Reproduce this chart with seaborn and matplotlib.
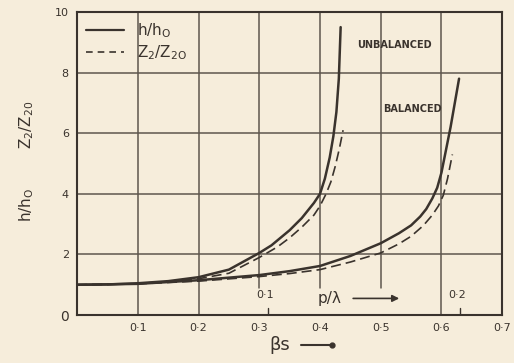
import numpy as np
import pandas as pd
import matplotlib
matplotlib.use("Agg")
import matplotlib.pyplot as plt
from matplotlib.lines import Line2D
import seaborn as sns

# === Curve data
unbal_h_x = [0, 0.05, 0.1, 0.15, 0.2, 0.25, 0.3, 0.32, 0.35, 0.37, 0.39, 0.4,
             0.408, 0.416, 0.422, 0.427, 0.431, 0.434]
unbal_h_y = [1.0, 1.01, 1.05, 1.12, 1.25, 1.5, 2.05, 2.3, 2.8, 3.2, 3.7, 4.0,
             4.5, 5.2, 5.9, 6.7, 7.8, 9.5]

unbal_z_x = [0, 0.05, 0.1, 0.15, 0.2, 0.25, 0.3, 0.33, 0.35, 0.37, 0.39, 0.4,
             0.41, 0.418, 0.425, 0.432, 0.438]
unbal_z_y = [1.0, 1.01, 1.04, 1.1, 1.2, 1.38, 1.9, 2.25, 2.55, 2.9, 3.3, 3.6,
             4.0, 4.4, 4.9, 5.5, 6.1]

bal_h_x = [0, 0.1, 0.2, 0.3, 0.35, 0.4, 0.45, 0.5, 0.53, 0.55, 0.565, 0.575,
           0.585, 0.593, 0.6, 0.608, 0.615, 0.622, 0.629]
bal_h_y = [1.0, 1.03, 1.15, 1.32, 1.45, 1.62, 1.95, 2.37, 2.7, 2.96, 3.25, 3.5,
           3.85, 4.2, 4.7, 5.5, 6.2, 7.0, 7.8]

bal_z_x = [0, 0.1, 0.2, 0.3, 0.35, 0.4, 0.45, 0.5, 0.53, 0.55, 0.57, 0.585,
           0.595, 0.603, 0.61, 0.618]
bal_z_y = [1.0, 1.03, 1.12, 1.27, 1.37, 1.5, 1.75, 2.05, 2.35, 2.6, 2.95, 3.3,
           3.6, 3.95, 4.5, 5.3]

x_ticks = [0.1, 0.2, 0.3, 0.4, 0.5, 0.6, 0.7]
x_labels = ["0·1", "0·2", "0·3", "0·4", "0·5", "0·6", "0·7"]
y_ticks = [0, 2, 4, 6, 8, 10]
pl_ticks = [0.315, 0.631]          # p/lambda secondary scale
pl_labels = ["0·1", "0·2"]

bg = "#f6eddb"
ink = "#3a332d"
grid_c = "#5e564e"

sns.set_style("white")
plt.rcParams["font.family"] = ["DejaVu Sans"]

fig = plt.figure(figsize=(5.14, 3.63), dpi=100, facecolor=bg)
ax = fig.add_axes([0.150, 0.132, 0.827, 0.835])
ax.set_facecolor(bg)

# === Grid (verticals at 0.3-0.5 stop short above the p/lambda scale)
for xv in x_ticks[:-1]:
    lo = 0.09 if 0.25 < xv < 0.55 else 0
    ax.axvline(xv, ymin=lo, ymax=1, color=grid_c, lw=1.1, zorder=1)
for yv in y_ticks[1:-1]:
    ax.axhline(yv, color=grid_c, lw=1.1, zorder=1)

# === Curves
curvas = [
    (unbal_h_x, unbal_h_y, "-", 1.8),
    (unbal_z_x, unbal_z_y, (0, (6, 3)), 1.2),
    (bal_h_x, bal_h_y, "-", 1.8),
    (bal_z_x, bal_z_y, (0, (6, 3)), 1.2),
]
for cx, cy, ls, lw in curvas:
    df = pd.DataFrame({"x": cx, "y": cy})
    sns.lineplot(data=df, x="x", y="y", ax=ax, color=ink, lw=lw,
                 linestyle=ls, sort=False, estimator=None, zorder=3)

ax.set_xlim(0, 0.7)
ax.set_ylim(0, 10)
ax.set_xticks(x_ticks)
ax.set_xticklabels(x_labels)
ax.set_yticks(y_ticks)
ax.set_yticklabels([str(v) for v in y_ticks])
ax.tick_params(length=0, labelsize=8, colors=ink, pad=6)
ax.set_xlabel("")
ax.set_ylabel("")
for s in ax.spines.values():
    s.set_color(ink)
    s.set_linewidth(1.5)

ax.get_yticklabels()[0].set_fontsize(10)

# === Legend
handles = [Line2D([], [], color=ink, lw=1.6, linestyle="-"),
           Line2D([], [], color=ink, lw=1.2, linestyle=(0, (4, 3)))]
ax.legend(handles, ["h/h$_\\mathregular{O}$", "Z$_\\mathregular{2}$/Z$_\\mathregular{2O}$"],
          loc="upper left", frameon=False, fontsize=11, handlelength=2.5,
          borderaxespad=0.2, labelspacing=0.2, labelcolor=ink)

# === Curve labels
ax.text(0.522, 8.9, "UNBALANCED", fontsize=7, fontweight="bold", color=ink,
        ha="center", va="center")
ax.text(0.552, 6.8, "BALANCED", fontsize=7, fontweight="bold", color=ink,
        ha="center", va="center")

# === p/lambda secondary scale
for xv, lab in zip(pl_ticks, pl_labels):
    ax.plot([xv, xv], [0, 0.25], color=ink, lw=1.0)
    ax.text(xv - 0.005, 0.65, lab, fontsize=8, color=ink, ha="center", va="center")
ax.text(0.415, 0.55, "p/λ", fontsize=11, color=ink, ha="center", va="center")
ax.annotate("", xy=(0.535, 0.55), xytext=(0.45, 0.55),
            arrowprops=dict(arrowstyle="-|>", color=ink, lw=1.2))

# === Axis labels
fig.text(0.052, 0.435, "h/h$_\\mathregular{O}$", rotation=90, fontsize=11, color=ink,
         ha="center", va="center")
fig.text(0.052, 0.655, "Z$_\\mathregular{2}$/Z$_\\mathregular{20}$", rotation=90, fontsize=11,
         color=ink, ha="center", va="center")
fig.text(0.545, 0.05, "βs", fontsize=13, color=ink, ha="center", va="center")
fig.add_artist(Line2D([0.585, 0.645], [0.05, 0.05], color=ink, lw=1.5))
fig.add_artist(Line2D([0.645], [0.05], color=ink, marker="o", markersize=3.5))

fig.savefig("out.png", dpi=100, facecolor=bg)
